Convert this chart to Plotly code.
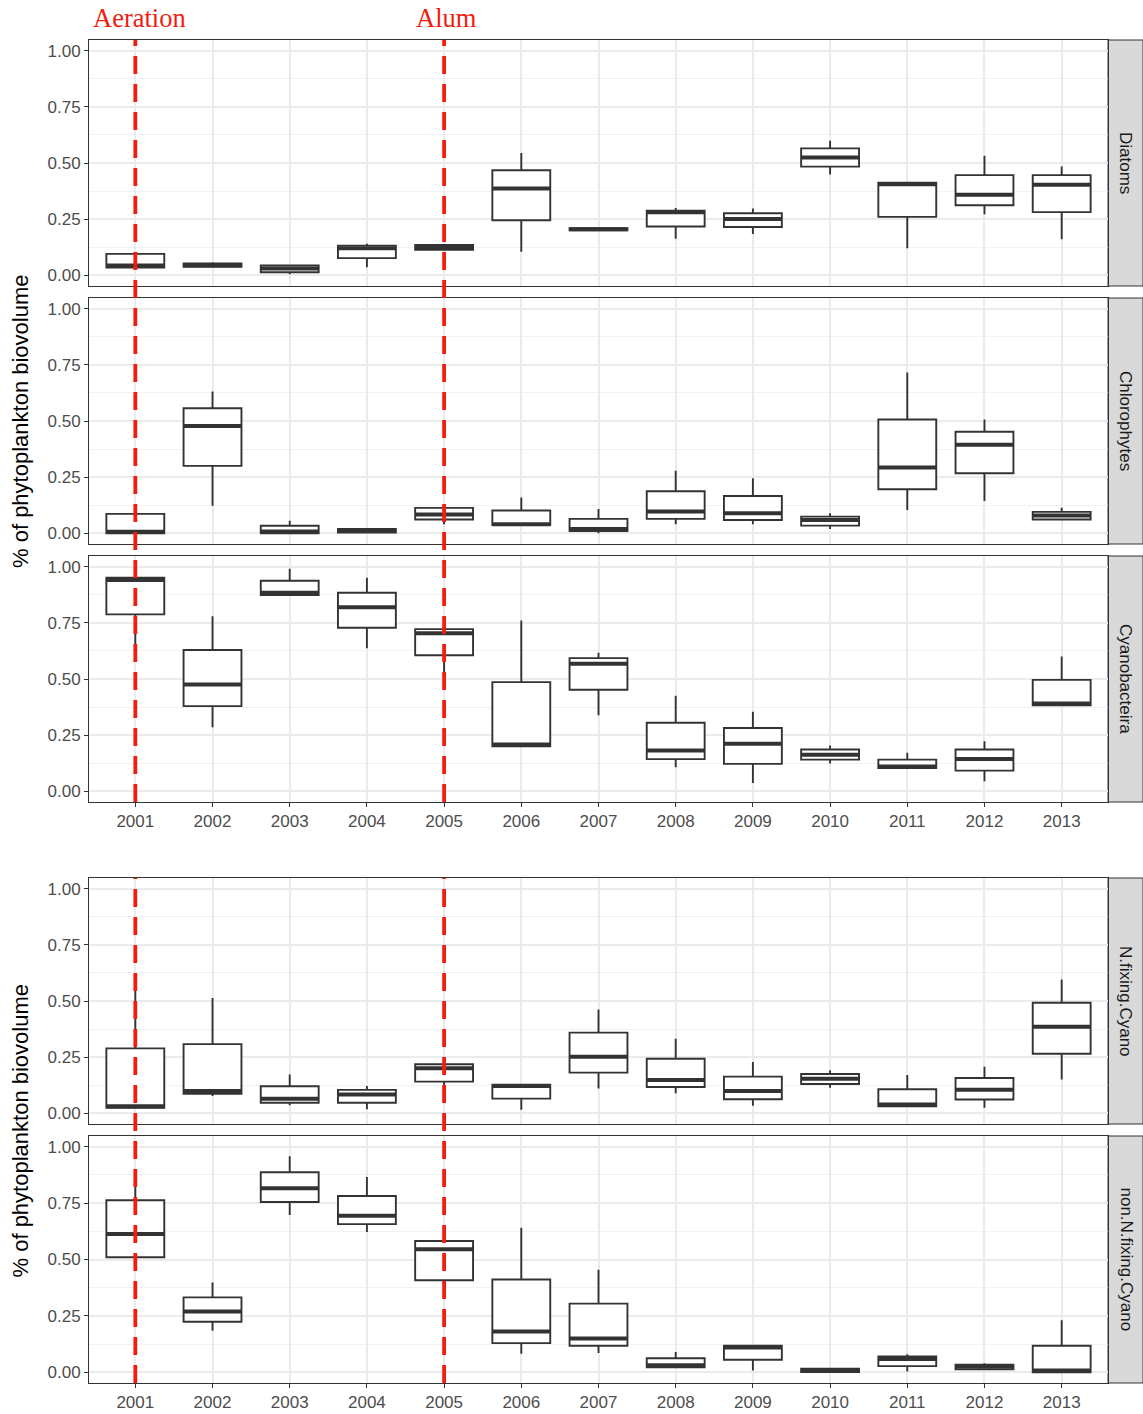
import plotly.graph_objects as go

years = [2001, 2002, 2003, 2004, 2005, 2006, 2007, 2008, 2009, 2010, 2011, 2012, 2013]

# Diatoms
diatoms_lo  = [0.030, 0.035, 0.004, 0.036, 0.110, 0.105, 0.198, 0.163, 0.184, 0.449, 0.120, 0.272, 0.160]
diatoms_q1  = [0.034, 0.038, 0.013, 0.076, 0.113, 0.245, 0.200, 0.217, 0.215, 0.484, 0.260, 0.312, 0.281]
diatoms_med = [0.043, 0.045, 0.030, 0.120, 0.125, 0.386, 0.205, 0.281, 0.251, 0.525, 0.405, 0.358, 0.403]
diatoms_q3  = [0.095, 0.053, 0.043, 0.132, 0.135, 0.468, 0.210, 0.288, 0.276, 0.565, 0.412, 0.446, 0.446]
diatoms_hi  = [0.100, 0.058, 0.043, 0.140, 0.138, 0.544, 0.212, 0.299, 0.297, 0.599, 0.416, 0.532, 0.484]

# Chlorophytes
chloro_lo  = [0.000, 0.122, 0.000, 0.003, 0.040, 0.036, 0.000, 0.040, 0.040, 0.019, 0.103, 0.144, 0.061]
chloro_q1  = [0.000, 0.300, 0.000, 0.003, 0.061, 0.036, 0.010, 0.064, 0.059, 0.034, 0.196, 0.267, 0.061]
chloro_med = [0.007, 0.478, 0.008, 0.010, 0.083, 0.040, 0.019, 0.097, 0.089, 0.059, 0.293, 0.394, 0.079]
chloro_q3  = [0.086, 0.557, 0.033, 0.019, 0.113, 0.101, 0.064, 0.187, 0.166, 0.074, 0.507, 0.452, 0.095]
chloro_hi  = [0.100, 0.631, 0.056, 0.022, 0.122, 0.159, 0.108, 0.278, 0.245, 0.089, 0.716, 0.507, 0.114]

# Cyanobacteira
cyano_lo  = [0.643, 0.285, 0.874, 0.637, 0.511, 0.200, 0.339, 0.107, 0.037, 0.123, 0.103, 0.045, 0.383]
cyano_q1  = [0.788, 0.379, 0.874, 0.728, 0.606, 0.200, 0.452, 0.143, 0.122, 0.141, 0.103, 0.092, 0.383]
cyano_med = [0.941, 0.475, 0.884, 0.820, 0.704, 0.208, 0.568, 0.181, 0.211, 0.163, 0.110, 0.144, 0.391]
cyano_q3  = [0.951, 0.629, 0.938, 0.884, 0.722, 0.486, 0.593, 0.305, 0.282, 0.186, 0.141, 0.186, 0.496]
cyano_hi  = [0.958, 0.780, 0.991, 0.951, 0.725, 0.761, 0.617, 0.425, 0.354, 0.204, 0.171, 0.223, 0.600]

# N.fixing.Cyano
nfix_lo  = [0.024, 0.077, 0.036, 0.018, 0.087, 0.015, 0.110, 0.089, 0.033, 0.114, 0.031, 0.024, 0.150]
nfix_q1  = [0.024, 0.087, 0.047, 0.047, 0.141, 0.065, 0.181, 0.117, 0.062, 0.130, 0.031, 0.061, 0.265]
nfix_med = [0.031, 0.099, 0.065, 0.083, 0.200, 0.121, 0.252, 0.148, 0.099, 0.154, 0.039, 0.105, 0.385]
nfix_q3  = [0.289, 0.308, 0.120, 0.104, 0.218, 0.127, 0.359, 0.243, 0.163, 0.175, 0.107, 0.157, 0.492]
nfix_hi  = [0.548, 0.513, 0.173, 0.121, 0.233, 0.127, 0.462, 0.332, 0.228, 0.191, 0.170, 0.207, 0.596]

# non.N.fixing.Cyano
nonfix_lo  = [0.480, 0.184, 0.697, 0.622, 0.329, 0.082, 0.085, 0.022, 0.007, 0.001, 0.003, 0.013, 0.000]
nonfix_q1  = [0.510, 0.224, 0.755, 0.657, 0.408, 0.129, 0.117, 0.022, 0.055, 0.001, 0.027, 0.013, 0.000]
nonfix_med = [0.613, 0.269, 0.816, 0.694, 0.545, 0.181, 0.150, 0.031, 0.110, 0.008, 0.058, 0.025, 0.007]
nonfix_q3  = [0.763, 0.332, 0.887, 0.782, 0.582, 0.411, 0.304, 0.062, 0.117, 0.016, 0.070, 0.033, 0.117]
nonfix_hi  = [0.864, 0.398, 0.958, 0.866, 0.585, 0.641, 0.455, 0.090, 0.122, 0.016, 0.080, 0.040, 0.230]

panel_names = ["Diatoms", "Chlorophytes", "Cyanobacteira", "N.fixing.Cyano", "non.N.fixing.Cyano"]
panel_stats = [
    (diatoms_lo, diatoms_q1, diatoms_med, diatoms_q3, diatoms_hi),
    (chloro_lo, chloro_q1, chloro_med, chloro_q3, chloro_hi),
    (cyano_lo, cyano_q1, cyano_med, cyano_q3, cyano_hi),
    (nfix_lo, nfix_q1, nfix_med, nfix_q3, nfix_hi),
    (nonfix_lo, nonfix_q1, nonfix_med, nonfix_q3, nonfix_hi),
]

event_labels = ["Aeration", "Alum"]
event_years = [2001, 2005]

y_ticks = [0.0, 0.25, 0.5, 0.75, 1.0]
y_minor = [0.125, 0.375, 0.625, 0.875]

W, H = 1143, 1414
def px_x(p): return p / W
def px_y(p): return 1 - p / H

x_dom = [px_x(89), px_x(1108)]
panel_px = [(40, 286), (298, 544), (556, 802), (878, 1124), (1136, 1383)]
show_xlab = [False, False, True, False, True]

pos = list(range(1, len(years) + 1))
box_w = 0.75
dark = "#333333"

fig = go.Figure()
layout = dict(width=W, height=H, margin=dict(l=0, r=0, t=0, b=0),
              paper_bgcolor="white", plot_bgcolor="white", showlegend=False,
              font=dict(family="Liberation Sans, Arial, sans-serif"))
shapes = []
annotations = []

for i, (name, stats) in enumerate(zip(panel_names, panel_stats)):
    lo, q1, med, q3, hi = stats
    ax = "" if i == 0 else str(i + 1)
    xref, yref = "x" + ax, "y" + ax
    fig.add_trace(go.Box(
        x=pos, q1=q1, median=med, q3=q3, lowerfence=lo, upperfence=hi,
        width=box_w, whiskerwidth=0, fillcolor="white",
        line=dict(color=dark, width=1.9), boxpoints=False,
        xaxis=xref, yaxis=yref, hoverinfo="skip"))
    # thick median segments (ggplot fatten)
    mx, my = [], []
    for p, m in zip(pos, med):
        mx += [p - box_w / 2, p + box_w / 2, None]
        my += [m, m, None]
    fig.add_trace(go.Scatter(x=mx, y=my, mode="lines",
                             line=dict(color=dark, width=4),
                             xaxis=xref, yaxis=yref, hoverinfo="skip"))
    top, bot = panel_px[i]
    layout["xaxis" + ax] = dict(
        domain=x_dom, range=[0.4, len(years) + 0.6], anchor=yref,
        tickvals=pos, ticktext=[str(y) for y in years],
        showticklabels=show_xlab[i], ticks="outside" if show_xlab[i] else "",
        ticklen=4, tickcolor=dark, tickwidth=1,
        tickfont=dict(size=17, color="#4D4D4D"),
        showgrid=True, gridcolor="#EBEBEB", gridwidth=1.6,
        showline=True, mirror=True, linecolor=dark, linewidth=1,
        zeroline=False)
    layout["yaxis" + ax] = dict(
        domain=[px_y(bot), px_y(top)], range=[-0.048, 1.048], anchor=xref,
        tickvals=y_ticks, ticktext=["%.2f" % v for v in y_ticks],
        ticks="outside", ticklen=4, tickcolor=dark, tickwidth=1,
        tickfont=dict(size=17, color="#4D4D4D"),
        showgrid=True, gridcolor="#EBEBEB", gridwidth=1.6,
        minor=dict(tickvals=y_minor, showgrid=True, gridcolor="#F2F2F2", gridwidth=1, ticks=""),
        showline=True, mirror=True, linecolor=dark, linewidth=1,
        zeroline=False)
    # strip
    shapes.append(dict(type="rect", xref="paper", yref="paper",
                       x0=px_x(1108), x1=1.0, y0=px_y(bot), y1=px_y(top),
                       fillcolor="#D9D9D9", line=dict(color=dark, width=1), layer="below"))
    annotations.append(dict(text=name, xref="paper", yref="paper",
                            x=px_x(1126), y=px_y((top + bot) / 2), textangle=90,
                            showarrow=False, font=dict(size=17, color="#1A1A1A"),
                            xanchor="center", yanchor="middle"))

# event lines spanning each group of panels
groups = [(0, 2), (3, 4)]
for yr in event_years:
    xp = years.index(yr) + 1
    for g0, g1 in groups:
        shapes.append(dict(type="line", xref="x", yref="paper",
                           x0=xp, x1=xp, y0=px_y(panel_px[g1][1]), y1=px_y(panel_px[g0][0]),
                           line=dict(color="#F21D0F", width=3.8, dash="18px,10px"),
                           layer="above"))

event_px = [91, 414]
for lab, xl in zip(event_labels, event_px):
    annotations.append(dict(text=lab, xref="paper", yref="paper", x=px_x(xl), y=px_y(18),
                            xanchor="left", yanchor="middle", showarrow=False,
                            font=dict(family="Liberation Serif, Times New Roman, serif",
                                      size=26.5, color="#F21D0F")))

for yc in [(40 + 802) / 2, (878 + 1383) / 2]:
    annotations.append(dict(text="% of phytoplankton biovolume", xref="paper", yref="paper",
                            x=px_x(20), y=px_y(yc), textangle=-90, showarrow=False,
                            xanchor="center", yanchor="middle",
                            font=dict(size=22, color="black")))

layout["shapes"] = shapes
layout["annotations"] = annotations
fig.update_layout(**layout)
fig.write_html("out.html", config={"displayModeBar": False},
               post_script="document.body.style.margin='0';document.body.style.overflow='hidden';")
